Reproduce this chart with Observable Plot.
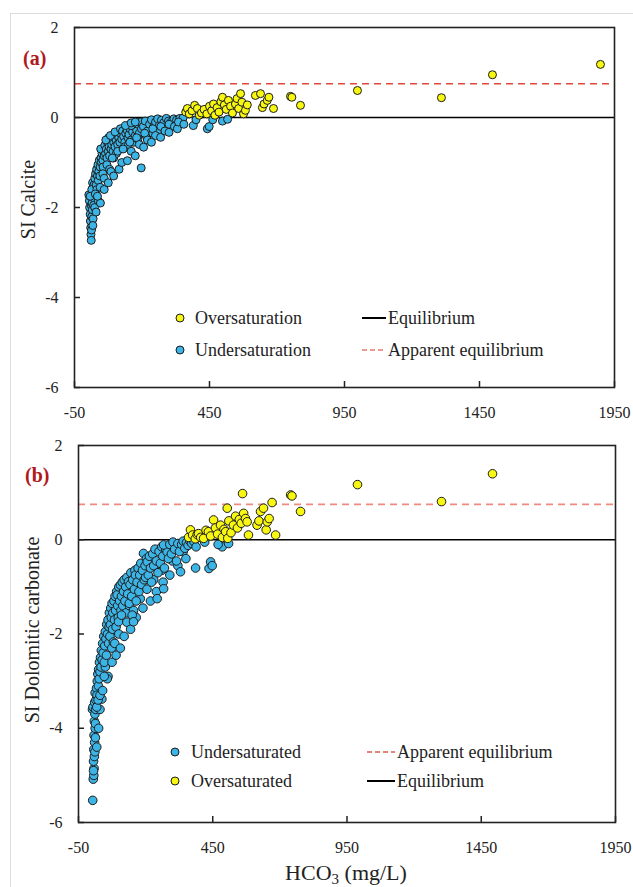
<!DOCTYPE html>
<html><head><meta charset="utf-8">
<script src="https://cdn.jsdelivr.net/npm/d3@7"></script>
<script src="https://cdn.jsdelivr.net/npm/@observablehq/plot@0.6"></script>
<style>
body{margin:0;background:#fff;}
#wrap{position:relative;width:633px;height:887px;overflow:hidden;font-family:"Liberation Serif",serif;color:#222;}
.abs{position:absolute;}
.lg{position:absolute;font-size:18px;line-height:20px;white-space:nowrap;transform:translateY(-50%);}
.tag{position:absolute;font-size:20px;font-weight:bold;color:#b0191c;transform:translateY(-50%);}
</style></head><body>
<div id="wrap">
  <div class="abs" style="left:10px;top:13px;right:-2px;bottom:-2px;border-left:1px solid #dcdcdc;border-top:1px solid #dcdcdc;"></div>
  <div id="pa" class="abs" style="left:0;top:0"></div>
  <div id="pb" class="abs" style="left:0;top:430px"></div>
  <div class="tag" style="left:23px;top:58px">(a)</div>
  <div class="tag" style="left:25px;top:475px">(b)</div>
  <div class="abs" style="left:0;width:692px;top:860px;text-align:center;font-size:22px;">HCO<sub style="font-size:15px;vertical-align:-4px">3</sub> (mg/L)</div>
</div>
<script>
const xTicks = [-50, 450, 950, 1450, 1950];
const yTicks = [-6, -4, -2, 0, 2];
const equilibrium = 0;
const apparentEquilibrium = 0.75;

// Panel (a): SI Calcite vs HCO3
const calciteUnder = [
[3,-1.72],[5,-1.85],[6,-2.0],[8,-2.15],[9,-2.3],[10,-2.45],[11,-2.6],[12,-2.73],[13,-2.5],[14,-2.2],[12,-1.95],[15,-1.9],[16,-2.05],[18,-1.75],[20,-1.6],[17,-1.45],[22,-1.5],[24,-1.8],[25,-1.35],[14,-1.6],[8,-1.75],[19,-2.25],[21,-1.95],[18,-2.4],[25,-2.0],[30,-2.1],
[28,-1.25],[30,-1.5],[32,-1.15],[35,-1.3],[37,-1.05],[40,-1.2],[42,-0.95],[45,-1.1],[48,-0.9],[50,-1.0],[52,-0.8],[55,-0.95],[58,-0.75],[60,-0.85],[33,-1.6],[38,-1.4],[44,-1.3],[27,-1.7],[47,-0.7],[56,-1.1],[38,-1.85],[46,-1.9],[35,-1.75],[45,-1.55],[55,-1.25],
[62,-0.62],[65,-0.8],[68,-0.7],[70,-0.9],[72,-0.55],[75,-0.75],[78,-0.65],[80,-0.85],[83,-0.5],[85,-0.7],[88,-0.6],[90,-0.45],[93,-0.75],[95,-0.55],[98,-0.4],[100,-0.65],[104,-0.5],[108,-0.38],[110,-0.6],[114,-0.45],[118,-0.55],[120,-0.35],[76,-0.45],[66,-0.5],[95,-0.9],[105,-0.8],
[60,-1.6],[60,-1.35],[70,-1.05],[75,-1.45],[80,-1.15],[85,-1.2],[90,-0.9],[95,-1.3],[110,-0.75],[115,-1.15],[83,-0.4],[100,-0.32],[120,-0.25],
[125,-0.48],[128,-0.3],[132,-0.42],[136,-0.55],[140,-0.35],[145,-0.28],[148,-0.45],[152,-0.38],[156,-0.25],[160,-0.5],[165,-0.32],[170,-0.2],[175,-0.4],[180,-0.28],[185,-0.15],[190,-0.35],[195,-0.1],[198,-0.25],[197,-1.12],[135,-0.65],[150,-0.6],[170,-0.55],[185,-0.48],[160,-0.18],
[125,-1.0],[130,-0.7],[139,-0.18],[146,-0.96],[155,-0.55],[160,-0.75],[160,-0.12],[175,-0.85],[175,-0.1],[180,-0.45],[190,-0.6],
[205,-0.2],[212,-0.08],[220,-0.3],[228,-0.15],[235,-0.05],[242,-0.22],[250,-0.1],[258,-0.03],[265,-0.18],[272,-0.06],[280,-0.12],[290,-0.02],[298,-0.08],[308,-0.1],[318,-0.03],[328,-0.06],[340,-0.02],[352,-0.01],[215,-0.4],[240,-0.35],[260,-0.28],
[206,-0.66],[210,-0.35],[220,-0.5],[235,-0.55],[240,-0.25],[250,-0.4],[269,-0.44],[270,-0.2],[285,-0.3],[300,-0.33],[300,-0.15],[320,-0.2],[331,-0.25],[335,-0.1],[355,-0.15],
[390,-0.18],[442,-0.25],[449,-0.2],[462,-0.05],[498,-0.08],[517,-0.04],[400,-0.05]
];
const calciteOver = [
[362,0.12],[368,0.2],[375,0.08],[385,0.15],[395,0.27],[405,0.2],[412,0.05],[420,0.1],[430,0.18],[440,0.08],[450,0.25],[458,0.15],[465,0.3],[470,0.05],[478,0.22],[485,0.12],[492,0.35],[498,0.45],[505,0.28],[512,0.18],[520,0.38],[528,0.25],[535,0.1],[546,0.3],[552,0.42],[558,0.2],[565,0.53],[570,0.34],[576,0.08],[583,0.16],[590,0.28],[620,0.49],[639,0.53],[646,0.22],[652,0.3],[664,0.38],[670,0.45],[687,0.2],[750,0.47],[755,0.45],[787,0.27],[998,0.6],[1309,0.44],[1498,0.95],[1898,1.18]
];

// Panel (b): SI Dolomitic carbonate vs HCO3
const dolomiteUnder = [
[3,-5.53],[5,-5.08],[7,-5.0],[8,-4.85],[6,-4.7],[9,-4.6],[7,-4.45],[10,-4.3],[8,-4.15],[12,-4.0],[9,-3.85],[13,-3.9],[2,-3.6],[4,-3.55],[11,-3.7],[14,-3.6],[10,-3.45],[15,-3.4],[12,-3.25],[6,-4.9],[11,-4.5],[13,-4.2],[18,-4.4],[25,-4.0],[30,-3.6],
[17,-3.15],[19,-3.3],[20,-3.0],[22,-2.85],[24,-3.1],[25,-2.75],[27,-2.95],[28,-2.6],[30,-2.8],[32,-2.5],[34,-2.7],[35,-2.35],[37,-3.38],[38,-2.55],[40,-2.2],[18,-3.55],[23,-3.4],[30,-3.3],[40,-3.2],[50,-2.7],[60,-2.9],
[42,-2.4],[44,-2.05],[46,-2.6],[48,-2.25],[50,-1.95],[52,-2.1],[54,-2.45],[55,-1.8],[57,-2.95],[58,-2.0],[60,-1.7],[62,-2.2],[64,-1.85],[65,-1.55],[67,-2.05],[69,-1.8],[70,-1.45],[72,-1.65],[74,-2.3],[75,-1.35],[77,-1.9],[78,-1.55],[80,-2.17],[46,-2.9],[75,-2.6],[85,-2.2],[90,-2.45],
[82,-1.3],[84,-1.7],[86,-1.2],[88,-1.5],[90,-1.85],[92,-1.1],[94,-1.17],[96,-1.4],[98,-1.65],[99,-1.74],[100,-1.0],[103,-1.3],[106,-0.96],[108,-1.5],[110,-1.2],[113,-0.9],[115,-1.4],[118,-1.1],[120,-0.85],[123,-1.3],[126,-1.0],[128,-1.55],[130,-0.8],
[100,-2.0],[106,-2.3],[110,-1.6],[120,-2.05],[130,-1.75],[140,-1.4],[144,-1.9],[155,-1.5],[165,-1.65],[170,-1.0],[180,-1.25],[190,-1.45],
[133,-1.15],[136,-0.89],[139,-1.35],[142,-0.95],[145,-0.7],[148,-1.2],[150,-1.6],[152,-0.85],[155,-1.74],[158,-1.05],[160,-0.65],[162,-0.75],[165,-1.3],[168,-0.9],[172,-0.6],[175,-1.1],[178,-0.75],[182,-0.5],[185,-0.95],[188,-0.65],[192,-0.29],[195,-0.85],[198,-0.55],
[200,-0.8],[205,-1.05],[218,-1.3],[230,-0.85],[240,-1.1],[260,-0.65],[265,-0.9],[290,-0.75],[300,-0.45],[320,-0.55],[340,-0.25],[350,-0.4],
[203,-0.4],[206,-0.47],[210,-0.75],[214,-0.35],[218,-0.6],[222,-0.9],[226,-0.3],[230,-0.55],[235,-0.2],[240,-0.45],[243,-1.25],[246,-0.7],[250,-0.25],[255,-0.5],[260,-0.15],[264,-0.35],[267,-1.04],[270,-0.6],[275,-0.2],[280,-0.26],[267,-0.11],
[285,-0.4],[290,-0.1],[296,-0.3],[302,-0.05],[308,-0.2],[315,-0.45],[320,-0.08],[326,-0.25],[330,-0.68],[334,-0.1],[340,-0.03],[346,-0.18],[352,-0.06],[358,-0.12],[365,-0.03],[372,-0.08],[380,-0.04],[388,-0.15],
[386,-0.6],[436,-0.61],[442,-0.47],[448,-0.55],[485,-0.15],[509,-0.08],[470,-0.1],[420,-0.05]
];
const dolomiteOver = [
[360,0.05],[367,0.21],[375,0.1],[385,0.02],[392,0.11],[397,0.13],[405,0.05],[416,0.03],[425,0.2],[434,0.17],[442,0.08],[453,0.42],[460,0.25],[468,0.12],[479,0.31],[486,0.05],[492,0.22],[498,0.17],[504,0.67],[506,0.03],[510,0.4],[518,0.15],[527,0.31],[535,0.5],[542,0.25],[549,0.43],[556,0.35],[561,0.98],[565,0.56],[572,0.45],[578,0.38],[583,0.1],[615,0.31],[622,0.4],[628,0.6],[639,0.67],[649,0.21],[653,0.38],[660,0.45],[671,0.79],[684,0.1],[740,0.95],[745,0.93],[777,0.6],[989,1.17],[1302,0.81],[1492,1.40]
];

const BLUE = "#3db4e6", YELLOW = "#f7f711", EDGE = "#1c1c1c";
const X0 = -50, X1 = 1950, Y0 = -6, Y1 = 2;

function panel({under, over, ylabel, height, mt, mb, ml, mr, r, dashColor, labelDy}) {
  const plotH = height - mt - mb, plotW = 633 - ml - mr;
  const yLen = 6 * (Y1 - Y0) / plotH;   // 6px tick length in y units
  const xLen = 6 * (X1 - X0) / plotW;   // 6px tick length in x units
  return Plot.plot({
    width: 633, height, marginTop: mt, marginBottom: mb, marginLeft: ml, marginRight: mr,
    style: {fontFamily: "'Liberation Serif', serif", fontSize: "16px", color: "#222", background: "transparent", overflow: "visible"},
    x: {domain: [X0, X1]},
    y: {domain: [Y0, Y1]},
    marks: [
      Plot.ruleY([apparentEquilibrium], {stroke: dashColor, strokeWidth: 1.6, strokeDasharray: "7,5"}),
      Plot.ruleY([equilibrium], {stroke: "#000", strokeWidth: 1.6}),
      Plot.dot(under, {x: d => d[0], y: d => d[1], r, fill: BLUE, stroke: EDGE, strokeWidth: 1}),
      Plot.dot(over, {x: d => d[0], y: d => d[1], r, fill: YELLOW, stroke: EDGE, strokeWidth: 1}),
      Plot.frame({stroke: "#222", strokeWidth: 1.6}),
      Plot.ruleX(xTicks, {x: d => d, y1: Y0, y2: Y0 + yLen, stroke: "#222", strokeWidth: 1.5}),
      Plot.ruleY(yTicks, {y: d => d, x1: X0, x2: X0 + xLen, stroke: "#222", strokeWidth: 1.5}),
      Plot.axisX({ticks: xTicks, tickSize: 0, tickPadding: 19, tickFormat: d => String(d), label: null, fontSize: 16}),
      Plot.axisY({ticks: yTicks, tickSize: 0, tickPadding: 16, tickFormat: d => String(d), label: null, fontSize: 16}),
      Plot.text([ylabel], {text: d => d, frameAnchor: "left", textAnchor: "middle", rotate: -90, dx: -46, dy: labelDy, fontSize: 20, fill: "#222"})
    ]
  });
}

document.getElementById("pa").append(panel({under: calciteUnder, over: calciteOver, ylabel: "SI Calcite",
  height: 430, mt: 27, mb: 43, ml: 74, mr: 19, r: 4, dashColor: "#e0483c", labelDy: -8}));
document.getElementById("pb").append(panel({under: dolomiteUnder, over: dolomiteOver, ylabel: "SI Dolomitic carbonate",
  height: 457, mt: 15, mb: 65, ml: 78, mr: 18, r: 4.3, dashColor: "#f08a80", labelDy: -4}));

// legends
const wrap = document.getElementById("wrap");
function legendDot(x, y, color, label, gap) {
  const s = document.createElementNS("http://www.w3.org/2000/svg", "svg");
  s.setAttribute("width", 12); s.setAttribute("height", 12);
  s.style.cssText = `position:absolute;left:${x - 6}px;top:${y - 6}px`;
  s.innerHTML = `<circle cx="6" cy="6" r="4" fill="${color}" stroke="${EDGE}" stroke-width="1"/>`;
  wrap.append(s);
  const t = document.createElement("div"); t.className = "lg";
  t.style.left = (x + gap) + "px"; t.style.top = y + "px"; t.textContent = label; wrap.append(t);
}
function legendLine(x1, x2, y, color, dash, label) {
  const s = document.createElementNS("http://www.w3.org/2000/svg", "svg");
  s.setAttribute("width", x2 - x1); s.setAttribute("height", 6);
  s.style.cssText = `position:absolute;left:${x1}px;top:${y - 3}px`;
  s.innerHTML = `<line x1="0" x2="${x2 - x1}" y1="3" y2="3" stroke="${color}" stroke-width="${dash ? 1.5 : 2}" ${dash ? 'stroke-dasharray="5,3"' : ''}/>`;
  wrap.append(s);
  const t = document.createElement("div"); t.className = "lg";
  t.style.left = (x2 + 2) + "px"; t.style.top = y + "px"; t.textContent = label; wrap.append(t);
}
legendDot(180, 318, YELLOW, "Oversaturation", 15);
legendDot(180, 350, BLUE, "Undersaturation", 15);
legendLine(362, 386, 318, "#000", false, "Equilibrium");
legendLine(362, 386, 350, "#e8796f", true, "Apparent equilibrium");

legendDot(175, 752, BLUE, "Undersaturated", 16);
legendDot(175, 781, YELLOW, "Oversaturated", 16);
legendLine(367, 395, 752, "#e05a50", true, "Apparent equilibrium");
legendLine(367, 395, 781, "#000", false, "Equilibrium");
</script>
</body></html>
